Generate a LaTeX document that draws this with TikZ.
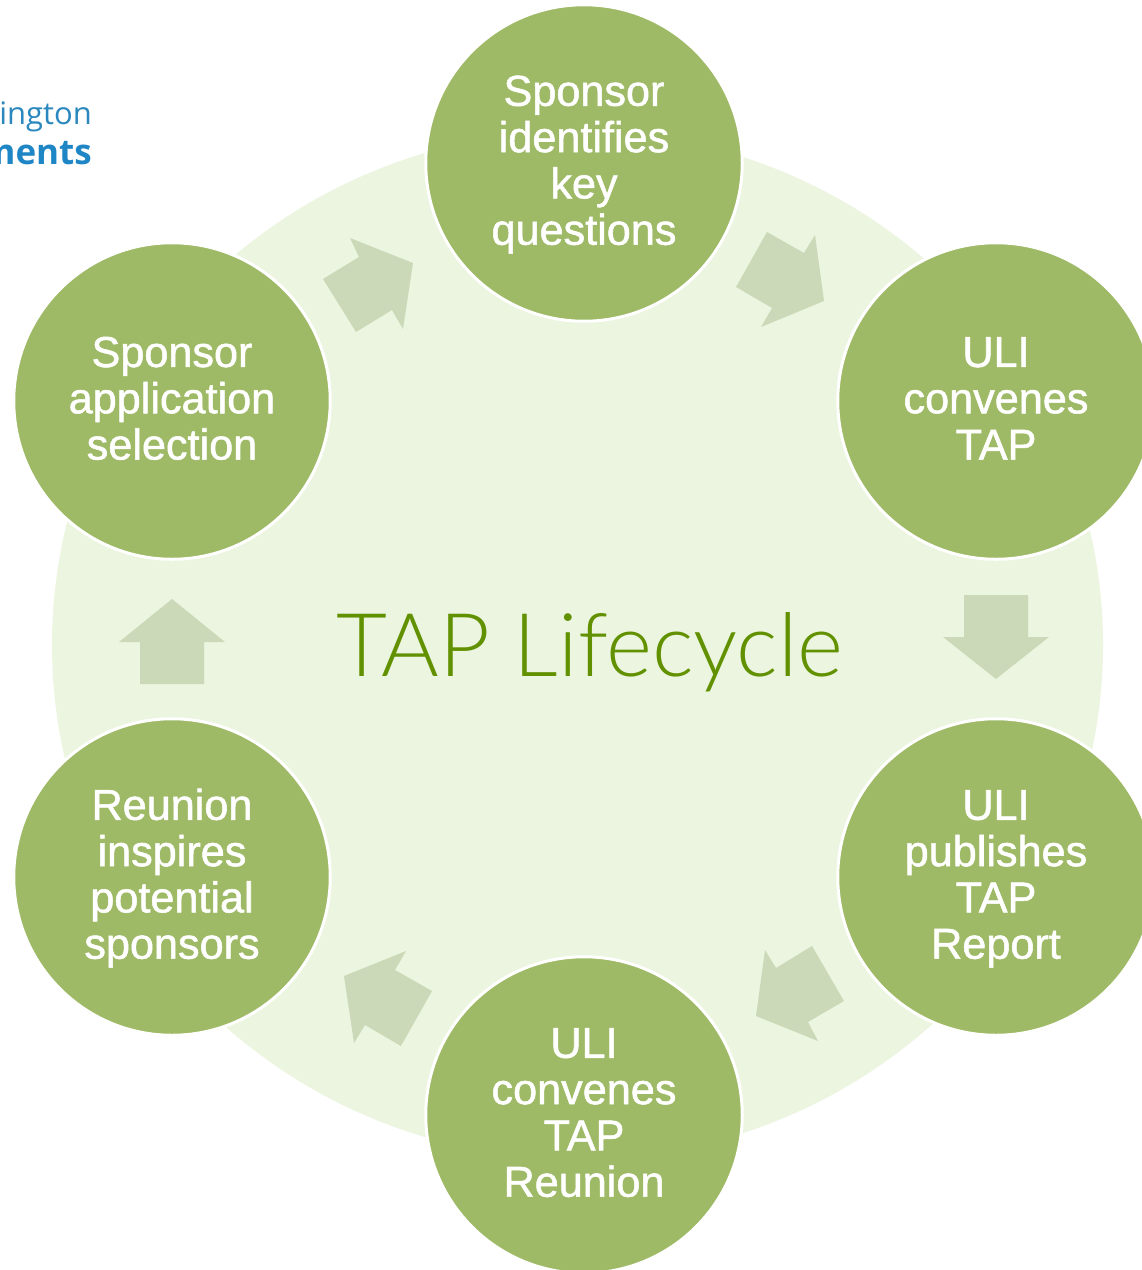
\documentclass[tikz,border=0pt]{standalone}
\usepackage{fontspec}
\setmainfont{Liberation Sans}
\newfontfamily\stepfont[FakeBold=1.2]{Liberation Sans}
\newfontfamily\lightfont{Lato Light}
\newfontfamily\logofont{Open Sans}
\definecolor{ringbg}{HTML}{ECF5DF}
\definecolor{stepgreen}{HTML}{9FBA66}
\definecolor{arrowgreen}{HTML}{CCD9B8}
\definecolor{titlegreen}{HTML}{629100}
\definecolor{logoblue}{HTML}{2B88BF}
\definecolor{logoboldblue}{HTML}{1F86C6}
\newcommand\stt{\rule[-10.9pt]{0pt}{46.3pt}}
\tikzset{
  stepnode/.style={circle,minimum size=316.5pt,inner sep=0pt,fill=stepgreen,draw=white,line width=3pt,
    text=white,align=center,font=\stepfont\fontsize{43.2}{46.3}\selectfont},
  blockarrow/.style={fill=arrowgreen,draw=none},
}
\begin{document}
\begin{tikzpicture}[x=1pt,y=-1pt]
\useasboundingbox (0,0) rectangle (1142,1270);
\clip (0,0) rectangle (1142,1270);
\fill[white] (0,0) rectangle (1142,1270);
\node[anchor=base east,inner sep=0pt,text=logoblue,font=\logofont\fontsize{31}{31}\selectfont] (logoa) at (92,124) {ington};
\node[anchor=base east,inner sep=0pt,text=logoboldblue,font=\logofont\bfseries\fontsize{35}{35}\selectfont] (logob) at (92,164) {ments};
\fill[ringbg] (577.5,645) ellipse [x radius=525.5,y radius=514];
\fill[blockarrow] (767,232)--(804,253)--(815,235)--(824,301)--(761,327)--(772,308)--(736,287)--cycle;
\fill[blockarrow] (964,595)--(1028,595)--(1028,637)--(1049,637)--(996,679)--(943,637)--(964,637)--cycle;
\fill[blockarrow] (812,946)--(844,1001)--(808,1022)--(818,1041)--(756,1016)--(765,950)--(776,968)--cycle;
\fill[blockarrow] (432,991)--(401,1046)--(365,1025)--(354,1043)--(344,976)--(406,951)--(395,970)--cycle;
\fill[blockarrow] (140,684)--(204,684)--(204,642)--(225,642)--(172,599)--(119,642)--(140,642)--cycle;
\fill[blockarrow] (323,279)--(359,257)--(350,238)--(413,263)--(403,329)--(392,310)--(356,332)--cycle;
\node[stepnode] (s1) at (584,163) {\stt Sponsor\\identifies\\key\\questions\stt};
\node[stepnode] (s2) at (996,401) {\stt ULI\\convenes\\TAP\stt};
\node[stepnode] (s3) at (996,877) {\stt ULI\\publishes\\TAP\\Report\stt};
\node[stepnode] (s4) at (584,1115) {\stt ULI\\convenes\\TAP\\Reunion\stt};
\node[stepnode] (s5) at (172,877) {\stt Reunion\\inspires\\potential\\sponsors\stt};
\node[stepnode] (s6) at (172,401) {\stt Sponsor\\application\\selection\stt};
\node[anchor=base,inner sep=0pt,text=titlegreen,font=\lightfont\fontsize{88}{88}\selectfont] (title) at (590,676) {TAP Lifecycle};
\end{tikzpicture}
\end{document}
